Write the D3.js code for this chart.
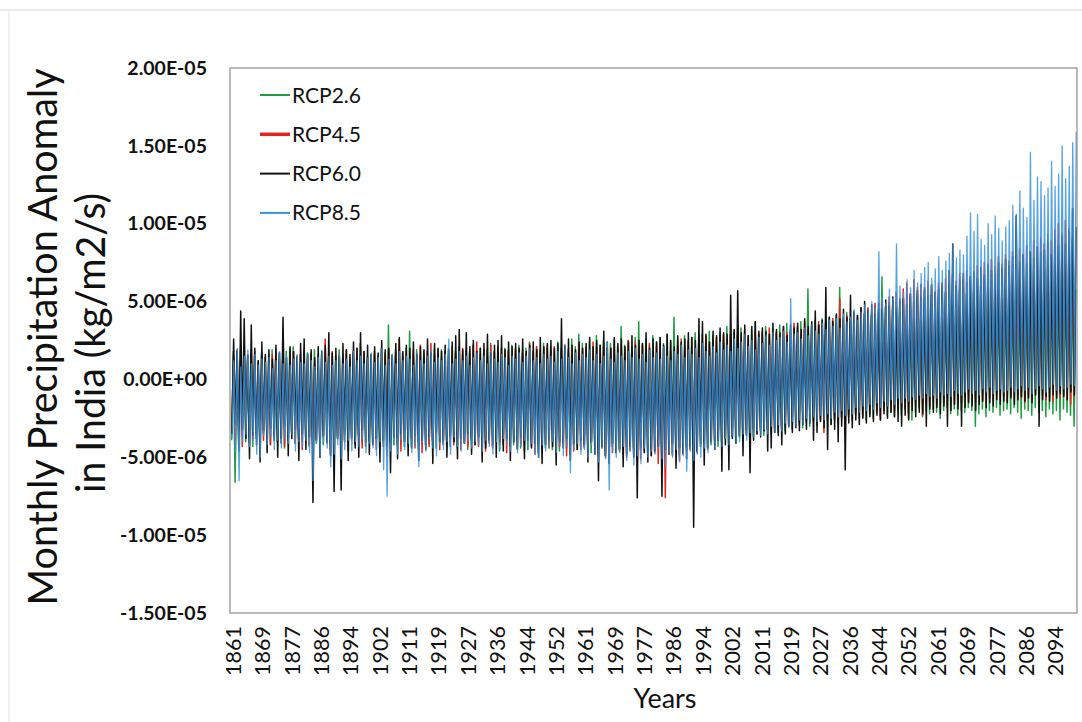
<!DOCTYPE html>
<html lang="en">

<head>
	<meta charset="UTF-8">
	<script src="https://cdn.jsdelivr.net/npm/d3@7"></script>
	<title>Monthly Precipitation Anomaly in India</title>
	<style>
		body {
			margin: 0;
			background: white;
			font-family: Lato, "Open Sans", sans-serif;
		}

		svg {
			display: block;
		}
	</style>
</head>

<body>
	<script>
		// values in 1e-6 kg/m2/s, one low (dry season) and one high (monsoon) value per year, 1861..2100
		const firstYear = 1861
		const seriesNames = ["RCP2.6", "RCP4.5", "RCP6.0", "RCP8.5"]
		const seriesColors = ["#1f9c40", "#e5231d", "#111111", "#3794dc"]

		const rcp26Hi = [
			1.8, 1.4, 2.0, 1.6, 1.3, 1.9, 1.5, 1.2, 1.7, 1.4,
			1.6, 1.9, 1.3, 1.7, 1.5, 1.8, 2.0, 2.1, 1.4, 1.6,
			1.3, 1.7, 1.5, 1.9, 1.2, 1.6, 1.8, 1.4, 1.7, 1.5,
			1.9, 1.4, 1.6, 1.3, 1.8, 1.5, 2.3, 1.7, 1.4, 1.6,
			1.8, 1.5, 2.0, 1.7, 3.5, 1.6, 1.9, 1.4, 1.7, 2.0,
			3.1, 1.6, 1.9, 1.5, 1.8, 1.4, 1.7, 2.0, 1.6, 1.9,
			1.7, 2.0, 1.5, 1.8, 2.1, 1.6, 1.9, 1.7, 2.2, 1.8,
			2.0, 1.7, 1.9, 2.3, 1.8, 2.1, 1.6, 2.0, 1.8, 2.2,
			1.9, 2.2, 1.7, 2.0, 2.4, 1.8, 2.1, 1.9, 2.3, 2.0,
			2.1, 1.8, 2.4, 2.0, 2.2, 1.9, 2.6, 2.1, 2.9, 2.3,
			2.0, 2.4, 2.1, 2.8, 2.2, 2.5, 2.0, 2.3, 2.6, 2.1,
			3.4, 2.2, 2.5, 2.1, 2.7, 3.7, 2.3, 2.6, 2.2, 2.8,
			2.4, 2.7, 2.3, 2.9, 2.5, 4.0, 2.6, 2.3, 2.8, 2.5,
			2.7, 3.0, 2.5, 2.9, 2.6, 3.1, 2.8, 2.5, 3.0, 2.8,
			3.4, 2.9, 3.1, 2.8, 3.3, 3.0, 2.7, 3.2, 3.7, 2.9,
			3.1, 3.4, 2.9, 3.3, 3.0, 3.5, 3.2, 3.6, 3.1, 3.4,
			3.3, 3.7, 3.2, 5.8, 3.4, 3.8, 3.5, 3.9, 3.6, 4.0,
			3.8, 4.1, 5.9, 4.0, 4.3, 3.9, 4.4, 4.1, 4.6, 4.2,
			4.5, 4.1, 4.7, 4.4, 6.6, 4.6, 4.9, 4.5, 5.0, 4.7,
			5.1, 4.8, 5.3, 4.9, 5.5, 5.0, 5.2, 4.8, 5.4, 5.0,
			5.3, 4.9, 5.6, 5.1, 5.4, 5.0, 5.7, 5.2, 5.5, 5.1,
			5.6, 5.2, 5.9, 5.4, 5.7, 5.3, 6.0, 5.5, 5.8, 5.4,
			5.9, 5.5, 6.1, 5.6, 5.8, 5.4, 6.2, 5.7, 6.0, 5.6,
			6.1, 5.7, 6.3, 5.8, 6.0, 5.6, 6.4, 5.9, 6.2, 5.8
		]
		const rcp26Lo = [
			-3.9, -6.6, -4.2, -3.6, -4.0, -3.7, -4.3, -3.8, -4.1, -3.5,
			-3.8, -4.2, -3.6, -4.0, -3.7, -4.4, -3.9, -3.5, -4.1, -3.8,
			-4.0, -3.7, -4.3, -3.9, -4.1, -3.6, -4.2, -3.8, -4.5, -4.0,
			-3.7, -4.1, -3.9, -4.4, -3.8, -4.2, -3.6, -4.0, -4.3, -3.9,
			-4.1, -3.8, -4.4, -4.0, -4.6, -3.9, -4.2, -3.7, -4.1, -4.3,
			-3.9, -4.3, -4.0, -4.5, -3.8, -4.2, -4.1, -3.9, -4.4, -4.0,
			-4.2, -3.9, -4.3, -4.0, -4.4, -3.8, -4.1, -4.5, -3.9, -4.2,
			-4.0, -4.4, -4.1, -3.8, -4.3, -4.0, -4.6, -4.2, -3.9, -4.3,
			-4.2, -3.9, -4.4, -4.1, -4.5, -4.0, -4.3, -4.7, -4.1, -4.4,
			-4.1, -4.5, -4.2, -4.6, -4.0, -4.4, -4.8, -4.2, -4.5, -4.3,
			-4.4, -4.1, -4.7, -4.3, -4.6, -4.2, -4.9, -4.5, -4.3, -4.7,
			-4.5, -4.8, -4.3, -4.6, -4.4, -4.9, -4.5, -4.2, -4.7, -4.4,
			-4.6, -4.3, -4.8, -4.5, -4.2, -4.7, -4.4, -4.9, -4.6, -4.3,
			-4.4, -4.1, -4.6, -4.3, -4.0, -4.5, -4.2, -3.9, -4.3, -4.0,
			-3.8, -4.1, -3.7, -4.0, -3.6, -3.9, -3.5, -3.8, -3.7, -3.4,
			-3.3, -3.6, -3.2, -3.5, -3.1, -3.4, -3.0, -3.3, -2.9, -3.2,
			-3.0, -2.8, -3.1, -2.7, -3.0, -2.6, -2.9, -2.5, -2.8, -2.6,
			-2.9, -2.5, -2.8, -2.4, -2.7, -2.3, -2.6, -2.2, -2.5, -2.3,
			-2.6, -2.2, -2.5, -2.1, -2.4, -2.0, -2.3, -2.1, -2.4, -2.0,
			-2.3, -1.9, -2.2, -2.6, -2.1, -1.8, -2.4, -2.0, -2.2, -1.9,
			-2.1, -2.5, -2.0, -1.8, -2.2, -1.9, -2.3, -2.0, -2.1, -1.8,
			-2.0, -3.0, -2.2, -1.9, -2.4, -2.0, -2.1, -1.8, -2.3, -2.0,
			-1.9, -2.2, -1.8, -2.1, -2.5, -1.9, -2.0, -2.3, -1.8, -2.1,
			-2.0, -2.4, -1.9, -2.2, -2.0, -2.6, -1.9, -2.1, -2.3, -3.0
		]

		const rcp45Hi = [
			1.5, 1.9, 1.2, 2.1, 1.6, 1.3, 1.8, 1.1, 1.7, 1.4,
			1.2, 1.6, 1.9, 1.3, 1.7, 1.0, 1.5, 1.8, 1.2, 1.6,
			1.9, 1.4, 1.7, 1.1, 1.6, 1.3, 2.6, 1.5, 1.8, 1.2,
			1.6, 1.3, 1.9, 1.4, 1.7, 2.0, 1.2, 1.8, 1.5, 1.3,
			1.7, 1.4, 2.0, 1.6, 1.9, 1.3, 1.8, 2.6, 1.5, 1.7,
			1.4, 1.9, 1.6, 2.2, 1.5, 1.8, 2.3, 1.6, 1.9, 1.4,
			1.8, 1.5, 2.1, 1.7, 1.4, 2.0, 1.6, 1.9, 2.2, 2.4,
			1.6, 1.9, 1.5, 2.2, 1.8, 1.6, 2.0, 1.7, 1.9, 1.5,
			2.0, 1.7, 1.9, 1.6, 2.3, 1.8, 2.1, 1.7, 1.9, 2.2,
			1.8, 2.1, 1.6, 1.9, 2.2, 1.7, 2.0, 1.8, 2.3, 1.9,
			2.1, 1.8, 2.4, 2.1, 1.9, 2.2, 1.7, 2.0, 2.3, 1.9,
			2.2, 1.9, 2.5, 2.1, 2.4, 1.8, 2.2, 2.0, 2.3, 1.9,
			2.1, 2.4, 2.0, 2.3, 1.8, 1.5, 2.2, 2.6, 2.0, 2.4,
			2.3, 2.0, 2.6, 2.2, 2.8, 2.4, 2.1, 2.7, 2.5, 2.9,
			2.6, 2.9, 2.4, 3.0, 2.7, 3.2, 2.8, 2.5, 3.1, 2.9,
			3.0, 2.7, 3.3, 2.9, 3.1, 2.8, 3.4, 3.0, 3.2, 3.6,
			3.4, 3.1, 3.7, 3.3, 3.5, 3.2, 3.7, 3.4, 3.8, 3.6,
			3.9, 3.5, 5.2, 3.8, 4.1, 3.7, 4.3, 4.0, 4.5, 4.2,
			4.6, 4.3, 4.9, 4.5, 5.0, 4.7, 5.3, 4.9, 5.6, 5.2,
			5.8, 6.2, 5.5, 6.4, 5.9, 6.1, 5.7, 6.3, 6.0, 5.6,
			6.2, 5.9, 6.5, 6.0, 6.7, 6.3, 6.8, 6.4, 7.0, 6.6,
			6.9, 7.3, 6.8, 7.5, 7.1, 7.7, 7.2, 7.9, 7.4, 8.0,
			7.6, 8.2, 7.8, 8.4, 8.0, 8.6, 8.2, 8.9, 8.5, 9.1,
			8.7, 9.3, 8.9, 9.6, 10.0, 9.4, 10.2, 9.7, 9.0, 9.5
		]
		const rcp45Lo = [
			-3.4, -4.0, -3.7, -4.3, -3.5, -4.1, -3.8, -3.3, -4.4, -3.9,
			-3.6, -4.2, -3.5, -4.0, -3.8, -4.3, -3.7, -3.4, -4.1, -3.9,
			-4.5, -3.8, -4.2, -4.6, -3.9, -4.4, -3.7, -4.1, -4.8, -4.0,
			-3.8, -4.3, -4.0, -4.6, -3.9, -4.2, -3.6, -4.4, -4.1, -3.7,
			-4.0, -4.5, -3.8, -4.3, -4.9, -4.1, -3.7, -4.2, -4.6, -3.9,
			-4.2, -3.8, -4.4, -4.0, -4.7, -3.9, -4.3, -4.1, -3.7, -4.5,
			-4.1, -4.4, -3.9, -4.2, -3.8, -4.5, -4.0, -4.3, -3.7, -4.1,
			-4.3, -3.9, -4.6, -4.1, -4.4, -3.8, -4.2, -4.0, -4.7, -4.3,
			-4.0, -4.4, -4.1, -4.6, -3.9, -4.3, -4.8, -4.2, -4.5, -4.1,
			-4.4, -4.0, -4.7, -4.3, -4.1, -4.9, -4.2, -4.6, -4.0, -4.5,
			-4.3, -4.8, -4.1, -4.6, -4.9, -4.4, -5.0, -4.2, -4.7, -4.5,
			-4.6, -4.2, -5.0, -4.5, -4.8, -4.3, -5.1, -4.6, -4.4, -4.9,
			-4.7, -5.4, -5.0, -7.6, -4.6, -4.9, -4.4, -5.2, -4.8, -4.5,
			-4.5, -4.1, -4.7, -4.3, -4.0, -4.4, -3.9, -4.2, -3.8, -4.1,
			-3.7, -4.0, -3.6, -3.9, -3.4, -3.8, -3.3, -3.6, -3.2, -3.5,
			-3.1, -2.8, -3.3, -3.0, -3.4, -2.9, -3.2, -2.7, -3.0, -2.8,
			-2.6, -2.9, -2.5, -2.8, -2.4, -2.7, -2.3, -2.6, -3.4, -2.5,
			-2.3, -2.6, -2.2, -2.5, -2.1, -2.4, -2.0, -2.3, -2.1, -2.4,
			-1.9, -2.2, -1.8, -2.1, -2.6, -2.0, -1.7, -1.9, -2.0, -1.6,
			-1.8, -1.5, -2.5, -1.7, -1.4, -1.6, -2.3, -1.5, -1.7, -1.4,
			-1.6, -1.3, -1.5, -1.2, -1.4, -1.6, -1.3, -1.5, -1.1, -1.4,
			-1.2, -1.5, -1.1, -1.3, -1.6, -1.2, -1.4, -1.0, -1.3, -1.1,
			-1.4, -1.1, -1.3, -1.0, -1.2, -1.5, -1.1, -1.3, -0.9, -1.2,
			-1.0, -1.3, -1.1, -1.4, -0.9, -1.2, -1.0, -1.3, -1.6, -1.1
		]

		const rcp60Hi = [
			2.6, 1.8, 4.4, 3.9, 1.5, 3.5, 2.0, 1.2, 2.4, 1.6,
			1.9, 1.3, 2.2, 1.7, 4.0, 1.4, 2.1, 1.8, 1.5, 2.3,
			2.6, 1.6, 1.9, 1.4, 2.1, 1.8, 2.2, 3.0, 1.7, 2.0,
			1.5, 2.3, 1.9, 1.6, 2.4, 2.0, 3.0, 1.8, 2.2, 1.6,
			2.1, 1.7, 2.5, 1.9, 2.0, 1.5, 2.3, 2.7, 1.8, 2.2,
			2.0, 2.4, 1.6, 2.1, 1.9, 2.6, 1.7, 2.3, 2.0, 1.8,
			2.2, 1.9, 2.4, 2.8, 3.2, 1.9, 3.0, 2.1, 2.5, 1.8,
			2.0, 2.3, 2.9, 1.7, 2.2, 2.5, 2.8, 1.9, 2.4, 2.1,
			2.3, 2.0, 2.6, 1.8, 2.2, 2.4, 1.9, 2.7, 2.1, 2.3,
			2.5, 2.0, 2.3, 3.9, 2.1, 2.6, 2.2, 1.9, 2.4, 2.0,
			2.3, 2.7, 2.1, 2.5, 2.2, 3.1, 2.4, 2.0, 2.7, 2.3,
			2.6, 2.1, 2.4, 2.8, 2.2, 2.5, 2.3, 3.0, 2.0, 2.6,
			2.4, 2.7, 2.2, 2.9, 2.5, 2.1, 2.8, 2.4, 2.6, 3.0,
			2.7, 2.5, 3.9, 3.7, 2.9, 2.4, 3.1, 2.8, 3.3, 3.0,
			2.9, 5.4, 3.2, 5.7, 3.0, 3.5, 2.8, 3.4, 3.7, 3.1,
			3.3, 3.1, 2.9, 3.6, 3.2, 3.0, 3.4, 2.8, 3.5, 3.3,
			3.6, 3.2, 3.9, 3.4, 3.7, 4.4, 3.5, 3.8, 5.9, 4.0,
			3.7, 4.2, 3.9, 4.5, 4.0, 5.4, 4.3, 4.1, 4.6, 5.0,
			4.4, 4.8, 4.2, 4.9, 4.5, 5.1, 4.7, 5.3, 4.6, 5.0,
			5.2, 4.8, 5.5, 5.0, 5.7, 5.3, 5.9, 5.4, 6.1, 5.6,
			5.8, 6.2, 5.6, 7.0, 8.7, 6.0, 6.4, 6.8, 6.2, 6.6,
			6.9, 6.5, 7.2, 6.7, 7.4, 7.0, 6.8, 7.5, 7.1, 7.7,
			7.3, 7.9, 10.5, 7.6, 8.0, 7.4, 8.2, 7.8, 8.5, 8.1,
			8.3, 8.8, 8.0, 9.0, 8.6, 9.2, 8.7, 9.5, 11.0, 9.8
		]
		const rcp60Lo = [
			-3.5, -2.9, -4.6, -3.2, -3.8, -5.1, -3.6, -4.2, -5.3, -3.3,
			-4.7, -3.1, -3.9, -5.0, -4.1, -3.0, -4.9, -3.8, -3.2, -5.2,
			-3.5, -4.5, -3.7, -7.9, -3.9, -5.0, -3.6, -4.0, -4.9, -7.2,
			-3.8, -7.1, -3.5, -5.2, -3.7, -4.4, -5.0, -3.3, -4.0, -4.8,
			-4.2, -3.8, -5.3, -3.9, -4.3, -6.0, -3.7, -5.1, -3.5, -4.0,
			-4.9, -4.4, -3.6, -5.2, -3.9, -4.5, -3.7, -5.4, -3.4, -4.0,
			-3.9, -5.0, -3.6, -4.0, -5.1, -3.8, -4.1, -3.5, -4.8, -4.2,
			-3.7, -5.3, -4.4, -3.9, -4.2, -5.0, -4.0, -4.6, -3.8, -5.2,
			-4.0, -4.5, -3.7, -5.1, -3.9, -4.4, -4.1, -5.0, -5.4, -4.2,
			-3.9, -4.3, -5.5, -4.0, -4.4, -3.8, -5.2, -4.1, -4.5, -3.9,
			-4.2, -5.3, -4.0, -4.8, -6.5, -4.3, -4.9, -5.4, -4.1, -4.7,
			-4.5, -5.6, -4.8, -4.3, -5.0, -7.6, -4.4, -4.7, -5.3, -4.9,
			-4.6, -4.3, -7.5, -4.5, -4.8, -4.1, -5.7, -4.4, -4.7, -5.1,
			-4.3, -9.5, -4.6, -4.1, -5.5, -4.4, -4.0, -4.5, -3.9, -5.9,
			-4.2, -5.8, -3.8, -4.1, -3.7, -4.9, -3.6, -6.0, -3.9, -3.5,
			-3.7, -3.3, -4.6, -4.4, -3.4, -3.6, -4.2, -3.5, -3.0, -3.4,
			-3.1, -3.3, -2.9, -3.2, -2.8, -3.9, -3.4, -2.7, -3.1, -4.5,
			-2.9, -3.2, -4.0, -3.0, -5.8, -2.8, -3.1, -2.6, -2.9, -2.5,
			-2.8, -2.4, -2.7, -2.3, -2.6, -2.2, -2.5, -2.1, -2.4, -2.7,
			-3.0, -2.3, -2.6, -2.0, -2.4, -2.1, -2.2, -3.0, -1.9, -2.1,
			-1.8, -2.2, -1.7, -3.0, -2.0, -1.6, -1.9, -3.0, -1.8, -1.5,
			-1.7, -2.0, -1.6, -1.4, -1.8, -1.5, -1.7, -1.3, -1.6, -1.4,
			-1.5, -1.2, -1.6, -1.3, -1.1, -1.4, -1.2, -1.5, -1.0, -3.0,
			-1.3, -1.1, -1.4, -1.0, -1.2, -0.9, -1.1, -1.3, -0.8, -1.0
		]

		const rcp85Hi = [
			1.2, 2.0, 0.8, 1.5, 1.9, 1.0, 1.6, 0.9, 1.3, 1.1,
			1.4, 0.7, 1.2, 1.8, 1.0, 1.5, 0.9, 1.3, 1.6, 1.1,
			1.0, 1.7, 1.2, 0.8, 1.4, 1.9, 1.1, 1.5, 0.9, 1.2,
			1.6, 1.0, 1.3, 0.8, 1.8, 1.2, 1.5, 1.0, 1.4, 1.7,
			1.1, 1.4, 2.0, 0.9, 1.3, 1.6, 1.0, 1.8, 1.2, 1.5,
			1.3, 0.9, 1.7, 1.2, 1.0, 1.5, 1.9, 1.1, 1.4, 1.2,
			1.6, 2.6, 1.0, 1.3, 1.8, 1.2, 1.5, 0.9, 1.4, 1.7,
			1.2, 1.5, 1.0, 1.8, 1.3, 1.1, 1.6, 1.4, 0.9, 1.5,
			1.3, 1.7, 1.1, 1.5, 2.0, 1.2, 1.4, 1.0, 1.6, 1.3,
			1.5, 1.1, 1.8, 1.3, 2.2, 1.4, 1.0, 1.7, 1.2, 1.6,
			1.4, 1.9, 1.2, 1.6, 1.0, 1.5, 2.4, 1.3, 1.1, 1.7,
			1.5, 1.2, 1.8, 1.4, 2.0, 1.3, 1.6, 1.1, 1.9, 1.4,
			1.7, 1.3, 2.1, 1.5, 1.2, 1.8, 1.6, 2.2, 1.4, 1.9,
			1.6, 2.0, 1.4, 2.3, 1.8, 1.5, 2.1, 1.7, 2.4, 1.9,
			2.2, 1.8, 2.6, 2.0, 2.4, 2.9, 2.1, 2.5, 1.9, 2.7,
			2.3, 2.8, 2.2, 3.0, 2.5, 2.7, 3.1, 2.4, 5.2, 2.9,
			3.0, 2.6, 3.3, 2.8, 3.5, 3.1, 2.9, 3.6, 3.2, 3.8,
			3.4, 3.9, 3.3, 4.2, 3.7, 4.0, 4.5, 3.8, 4.3, 4.8,
			4.4, 5.0, 4.6, 8.2, 5.3, 4.9, 5.8, 5.2, 8.7, 6.0,
			5.6, 6.4, 5.9, 7.0, 6.2, 6.8, 7.2, 7.5, 6.5, 7.1,
			7.9, 7.0, 7.6, 8.1, 8.7, 7.8, 8.3, 8.0, 9.2, 10.7,
			9.5, 10.6, 9.0, 8.6, 10.0, 9.3, 10.5, 9.7, 8.9, 9.8,
			10.2, 11.2, 10.6, 12.1, 11.0, 10.4, 14.6, 11.5, 13.0, 12.7,
			11.8, 12.3, 14.0, 12.4, 13.2, 15.0, 12.9, 13.7, 15.2, 15.9
		]
		const rcp85Lo = [
			-3.8, -4.6, -6.5, -4.0, -3.5, -4.3, -3.9, -4.8, -5.0, -3.6,
			-4.2, -3.7, -4.5, -3.9, -4.4, -3.8, -4.1, -3.5, -4.6, -4.0,
			-4.3, -3.9, -4.7, -6.5, -4.1, -4.9, -4.0, -4.4, -5.6, -4.8,
			-4.2, -5.1, -4.5, -3.9, -4.6, -4.0, -4.3, -3.8, -4.7, -4.1,
			-4.4, -4.9, -4.0, -5.8, -7.5, -4.6, -4.2, -4.8, -3.9, -4.5,
			-4.1, -4.7, -4.3, -5.6, -4.0, -4.6, -3.8, -4.4, -4.9, -4.2,
			-4.5, -4.0, -4.8, -3.7, -4.3, -4.6, -4.1, -3.9, -4.4, -4.0,
			-4.2, -4.6, -3.9, -4.3, -4.8, -4.0, -4.5, -3.8, -4.2, -4.6,
			-4.0, -4.7, -4.3, -3.9, -4.5, -4.1, -4.8, -5.0, -4.2, -4.6,
			-4.4, -4.0, -4.7, -4.2, -4.9, -4.3, -6.0, -4.5, -4.1, -4.8,
			-4.5, -5.0, -4.2, -4.8, -5.3, -4.4, -5.1, -7.1, -4.6, -5.0,
			-4.7, -4.3, -5.2, -4.6, -5.5, -4.9, -5.4, -4.4, -5.0, -4.6,
			-4.8, -4.4, -5.1, -5.6, -4.7, -5.0, -4.5, -5.3, -4.9, -5.9,
			-4.6, -5.2, -4.8, -5.0, -4.4, -4.7, -4.1, -4.5, -3.9, -4.3,
			-3.8, -4.2, -3.6, -4.0, -4.0, -3.5, -3.9, -3.4, -3.7, -3.3,
			-3.6, -3.2, -3.5, -3.0, -3.4, -2.9, -3.3, -2.8, -3.1, -2.7,
			-3.0, -2.6, -2.9, -2.5, -2.8, -2.4, -2.7, -2.3, -2.6, -2.2,
			-2.5, -2.1, -2.4, -2.0, -2.3, -1.9, -2.2, -1.8, -2.1, -1.7,
			-2.0, -1.6, -1.9, -1.5, -1.8, -1.4, -1.7, -1.3, -1.6, -1.2,
			-1.5, -1.2, -1.4, -1.1, -1.3, -1.0, -1.2, -0.9, -1.1, -1.0,
			-1.2, -0.8, -1.0, -0.9, -1.1, -0.7, -0.9, -1.0, -0.8, -0.6,
			-0.9, -0.7, -1.0, -0.6, -0.8, -0.5, -0.9, -0.7, -0.6, -0.8,
			-0.7, -0.5, -0.8, -0.6, -0.4, -0.7, -0.5, -0.9, -0.6, -0.4,
			-0.6, -0.8, -0.5, -0.3, -0.7, -0.4, -0.6, -0.5, -0.3, -0.4
		]

		// category labels, every 100 months
		const tickLabels = [1861, 1869, 1877, 1886, 1894, 1902, 1911, 1919, 1927, 1936,
			1944, 1952, 1961, 1969, 1977, 1986, 1994, 2002, 2011, 2019,
			2027, 2036, 2044, 2052, 2061, 2069, 2077, 2086, 2094]
		const yTicks = [2.0e-5, 1.5e-5, 1.0e-5, 5.0e-6, 0, -5.0e-6, -1.0e-5, -1.5e-5]

		const hiArrays = [rcp26Hi, rcp45Hi, rcp60Hi, rcp85Hi]
		const loArrays = [rcp26Lo, rcp45Lo, rcp60Lo, rcp85Lo]

		/*-------------------------------------------------------*/
		/*-------------------- layout ---------------------------*/
		/*-------------------------------------------------------*/
		const W = 1082, H = 722
		const plot = { left: 230, right: 1077, top: 68, bottom: 613 }

		const svg = d3.select("body").append("svg")
			.attr("width", W)
			.attr("height", H)

		// faint page edge from the scan
		svg.append("line").attr("x1", 0).attr("x2", W).attr("y1", 10).attr("y2", 10)
			.attr("stroke", "#e4e4e4").attr("stroke-width", 1.5)
		svg.append("line").attr("x1", 9).attr("x2", 9).attr("y1", 10).attr("y2", H)
			.attr("stroke", "#eeeeee").attr("stroke-width", 1.5)

		const x = d3.scaleLinear().domain([0, 2880]).range([plot.left + 1, plot.right])
		const y = d3.scaleLinear().domain([-1.5e-5, 2.0e-5]).range([plot.bottom, plot.top])

		// Excel-like 0.00E+00 format
		function fmtE(v) {
			if (v === 0) return "0.00E+00"
			const e = Math.floor(Math.log10(Math.abs(v)) + 1e-9)
			const m = v / Math.pow(10, e)
			const ae = Math.abs(e)
			return m.toFixed(2) + "E" + (e < 0 ? "-" : "+") + (ae < 10 ? "0" : "") + ae
		}

		/*-------------------------------------------------------*/
		/*---------------------- series -------------------------*/
		/*-------------------------------------------------------*/
		const phase = [0, 0.5, 1, 1.5]
		const series = seriesNames.map((name, s) => {
			const pts = []
			hiArrays[s].forEach((hi, i) => {
				pts.push({ m: i * 12 + 2 + phase[s], v: loArrays[s][i] * 1e-6 })
				pts.push({ m: i * 12 + 8 + phase[s], v: hi * 1e-6 })
			})
			return { name: name, color: seriesColors[s], pts: pts }
		})

		const line = d3.line()
			.x(d => x(d.m))
			.y(d => y(d.v))

		svg.append("clipPath").attr("id", "clip")
			.append("rect")
			.attr("x", plot.left).attr("y", plot.top)
			.attr("width", plot.right - plot.left).attr("height", plot.bottom - plot.top)

		svg.append("g").attr("clip-path", "url(#clip)")
			.selectAll("path")
			.data(series)
			.enter()
			.append("path")
			.attr("d", d => line(d.pts))
			.attr("fill", "none")
			.attr("stroke", d => d.color)
			.attr("stroke-width", (d, i) => i === 3 ? 1.3 : 1.5)
			.attr("stroke-opacity", (d, i) => i === 3 ? 0.85 : 1)
			.attr("stroke-linejoin", "round")

		// plot frame
		svg.append("rect")
			.attr("x", plot.left).attr("y", plot.top)
			.attr("width", plot.right - plot.left).attr("height", plot.bottom - plot.top)
			.attr("fill", "none")
			.attr("stroke", "#8a8c98")
			.attr("stroke-width", 1.2)

		/*-------------------------------------------------------*/
		/*----------------------- axes --------------------------*/
		/*-------------------------------------------------------*/
		const yAxis = svg.append("g")
			.attr("transform", `translate(${plot.left},0)`)
			.call(d3.axisLeft(y).tickValues(yTicks).tickSize(0).tickPadding(23).tickFormat(fmtE))
		yAxis.select(".domain").remove()
		yAxis.selectAll("text")
			.attr("font-family", "Lato, 'Open Sans', sans-serif")
			.attr("font-weight", "bold")
			.attr("font-size", 19.5)
			.attr("fill", "#111")

		svg.append("g")
			.selectAll("text")
			.data(tickLabels)
			.enter()
			.append("text")
			.attr("transform", (d, i) => `translate(${x(i * 100) + 2},626) rotate(-90)`)
			.attr("dy", "0.36em")
			.attr("text-anchor", "end")
			.attr("font-family", "Lato, 'Open Sans', sans-serif")
			.attr("font-size", 21.5)
			.attr("fill", "#111")
			.text(d => d)

		/*-------------------------------------------------------*/
		/*---------------------- titles -------------------------*/
		/*-------------------------------------------------------*/
		svg.append("text")
			.attr("transform", "translate(57,337) rotate(-90)")
			.attr("text-anchor", "middle")
			.attr("font-family", "Lato, 'Open Sans', sans-serif")
			.attr("font-size", 41)
			.attr("textLength", 537)
			.attr("lengthAdjust", "spacingAndGlyphs")
			.attr("fill", "#111")
			.text("Monthly Precipitation Anomaly")

		svg.append("text")
			.attr("transform", "translate(105,343) rotate(-90)")
			.attr("text-anchor", "middle")
			.attr("font-family", "Lato, 'Open Sans', sans-serif")
			.attr("font-size", 41)
			.attr("textLength", 300)
			.attr("lengthAdjust", "spacingAndGlyphs")
			.attr("fill", "#111")
			.text("in India (kg/m2/s)")

		svg.append("text")
			.attr("x", 665)
			.attr("y", 708)
			.attr("text-anchor", "middle")
			.attr("font-family", "Lato, 'Open Sans', sans-serif")
			.attr("font-size", 27)
			.attr("fill", "#111")
			.text("Years")

		/*-------------------------------------------------------*/
		/*---------------------- legend -------------------------*/
		/*-------------------------------------------------------*/
		const legend = svg.append("g")
			.selectAll("g")
			.data(series)
			.enter()
			.append("g")
			.attr("transform", (d, i) => `translate(260,${95 + i * 39.3})`)

		legend.append("line")
			.attr("x1", 0).attr("x2", 30)
			.attr("stroke", d => d.color)
			.attr("stroke-width", (d, i) => i === 1 ? 3.5 : 2)

		legend.append("text")
			.attr("x", 32)
			.attr("dy", "0.36em")
			.attr("font-family", "Lato, 'Open Sans', sans-serif")
			.attr("font-size", 21)
			.attr("fill", "#111")
			.text(d => d.name)
	</script>
</body>

</html>
